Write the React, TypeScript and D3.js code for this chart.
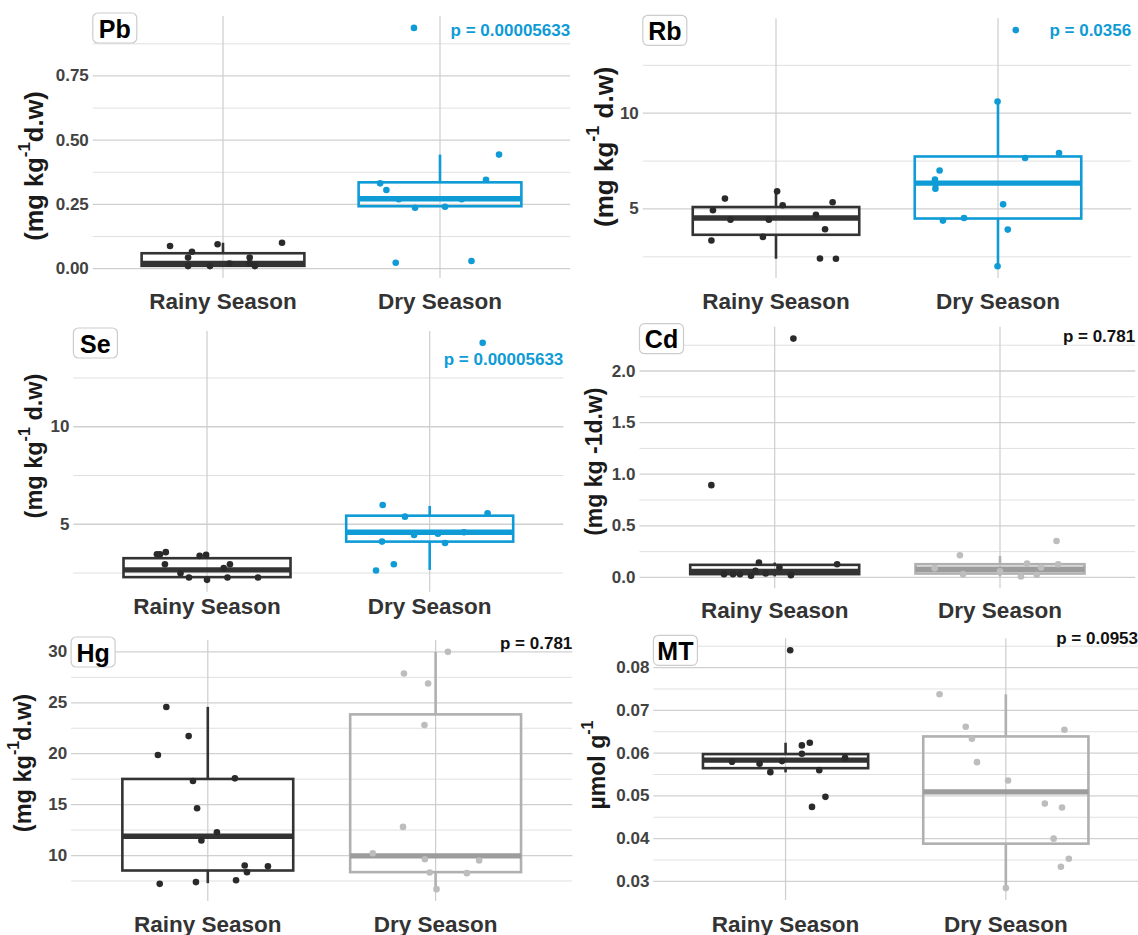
import React from "react";
import * as d3 from "d3";

// ---------- DATA ----------
const seasons = ["Rainy Season", "Dry Season"];
const elements = ["Pb", "Rb", "Se", "Cd", "Hg", "MT"];
const pLabels = ["p = 0.00005633", "p = 0.0356", "p = 0.00005633", "p = 0.781", "p = 0.781", "p = 0.0953"];

// box stats: [lowerWhisker, q1, median, q3, upperWhisker]
const pbRainyBox = [0.01, 0.011, 0.02, 0.06, 0.101];
const pbDryBox = [0.241, 0.243, 0.272, 0.336, 0.444];
const rbRainyBox = [2.4, 3.65, 4.53, 5.1, 5.92];
const rbDryBox = [2.01, 4.5, 6.35, 7.74, 10.6];
const seRainyBox = [2.15, 2.29, 2.66, 3.26, 3.52];
const seDryBox = [2.66, 4.11, 4.59, 5.44, 5.94];
const cdRainyBox = [0.01, 0.032, 0.058, 0.122, 0.144];
const cdDryBox = [0.01, 0.038, 0.08, 0.128, 0.208];
const hgRainyBox = [7.29, 8.53, 11.9, 17.52, 24.6];
const hgDryBox = [6.7, 8.37, 9.97, 23.86, 30.0];
const mtRainyBox = [0.0555, 0.05648, 0.05836, 0.05977, 0.06242];
const mtDryBox = [0.02844, 0.03883, 0.05094, 0.0639, 0.07375];

// jittered points: [jitter offset (category units), value]
const pbRainyPts = [[-0.244, 0.088], [-0.143, 0.066], [-0.161, 0.043], [-0.161, 0.01], [-0.06, 0.01], [-0.025, 0.095], [0.123, 0.043], [0.147, 0.01], [0.272, 0.101], [0.123, 0.022], [0.03, 0.02]];
const pbDryPts = [[-0.276, 0.332], [-0.247, 0.306], [-0.204, 0.023], [-0.115, 0.237], [-0.12, 0.937], [0.023, 0.241], [0.145, 0.03], [0.212, 0.346], [0.272, 0.444], [-0.19, 0.27], [0.1, 0.27]];
const rbRainyPts = [[-0.291, 3.35], [-0.284, 4.93], [-0.23, 5.54], [-0.205, 4.44], [-0.059, 3.54], [-0.032, 4.44], [0.005, 5.92], [0.03, 5.19], [0.18, 4.7], [0.198, 2.41], [0.221, 3.94], [0.255, 5.35], [0.27, 2.4]];
const rbDryPts = [[-0.284, 6.53], [-0.282, 6.06], [-0.28, 6.3], [-0.263, 7.01], [-0.248, 4.39], [-0.153, 4.53], [-0.002, 10.61], [0.023, 5.24], [0.044, 3.92], [-0.002, 2.01], [0.08, 14.34], [0.122, 7.66], [0.275, 7.92]];
const seRainyPts = [[-0.225, 3.46], [-0.211, 3.46], [-0.185, 3.57], [-0.189, 2.95], [-0.119, 2.49], [-0.081, 2.27], [-0.033, 3.38], [-0.004, 3.43], [0, 2.15], [0.075, 2.75], [0.092, 2.27], [0.103, 2.95], [0.229, 2.27]];
const seDryPts = [[-0.241, 2.63], [-0.211, 5.99], [-0.214, 4.11], [-0.161, 2.95], [-0.111, 5.39], [-0.07, 4.45], [0.037, 4.51], [0.069, 4.04], [0.154, 4.59], [0.238, 14.3], [0.26, 5.56]];
const cdRainyPts = [[-0.281, 0.894], [-0.225, 0.032], [-0.185, 0.032], [-0.154, 0.032], [-0.105, 0.016], [-0.085, 0.064], [-0.07, 0.144], [-0.04, 0.038], [0.021, 0.096], [0.072, 0.022], [0.083, 2.314], [0.277, 0.128]];
const cdDryPts = [[-0.178, 0.215], [-0.164, 0.032], [-0.29, 0.09], [0.093, 0.01], [0.12, 0.135], [0.163, 0.026], [0.182, 0.096], [0.251, 0.353], [0.258, 0.128], [0, 0.06]];
const hgRainyPts = [[-0.211, 7.22], [-0.182, 24.58], [-0.219, 19.87], [-0.084, 21.73], [-0.065, 17.32], [-0.052, 7.39], [-0.047, 14.64], [-0.028, 11.47], [0.04, 12.29], [0.119, 17.58], [0.124, 7.58], [0.162, 9.02], [0.172, 8.37], [0.264, 8.95]];
const hgDryPts = [[-0.276, 10.23], [-0.143, 12.81], [-0.139, 27.88], [-0.049, 22.81], [-0.047, 9.64], [-0.033, 26.9], [-0.026, 8.33], [0.004, 6.7], [0.054, 30.0], [0.137, 8.27], [0.191, 9.51]];
const mtRainyPts = [[-0.243, 0.05797], [-0.118, 0.0575], [-0.069, 0.05555], [-0.016, 0.05813], [0.021, 0.08406], [0.074, 0.0618], [0.074, 0.05984], [0.11, 0.06242], [0.12, 0.04742], [0.153, 0.05602], [0.181, 0.04977], [0.27, 0.0589]];
const mtDryPts = [[-0.301, 0.07375], [-0.182, 0.06617], [-0.154, 0.06336], [-0.131, 0.05789], [0.01, 0.05359], [0, 0.02844], [0.177, 0.0482], [0.255, 0.04727], [0.217, 0.04], [0.286, 0.03531], [0.25, 0.03344], [0.266, 0.06547]];

const pbTicks = [0, 0.25, 0.5, 0.75];
const rbTicks = [5, 10];
const seTicks = [5, 10];
const cdTicks = [0, 0.5, 1.0, 1.5, 2.0];
const hgTicks = [10, 15, 20, 25, 30];
const mtTicks = [0.03, 0.04, 0.05, 0.06, 0.07, 0.08];
const tickFormats = [".2f", "d", "d", ".1f", "d", ".2f"];

// y-axis titles: [text, isSuperscript]
const yTitles = [
  [["(mg kg", false], ["-1", true], ["d.w)", false]],
  [["(mg kg", false], ["-1", true], [" d.w)", false]],
  [["(mg kg", false], ["-1", true], [" d.w)", false]],
  [["(mg kg -1d.w)", false]],
  [["(mg kg", false], ["-1", true], ["d.w)", false]],
  [["µmol g", false], ["-1", true]],
];

const boxes = [[pbRainyBox, pbDryBox], [rbRainyBox, rbDryBox], [seRainyBox, seDryBox], [cdRainyBox, cdDryBox], [hgRainyBox, hgDryBox], [mtRainyBox, mtDryBox]];
const points = [[pbRainyPts, pbDryPts], [rbRainyPts, rbDryPts], [seRainyPts, seDryPts], [cdRainyPts, cdDryPts], [hgRainyPts, hgDryPts], [mtRainyPts, mtDryPts]];
const ticks = [pbTicks, rbTicks, seTicks, cdTicks, hgTicks, mtTicks];

// ---------- LAYOUT / STYLE ----------
const layout = [
  { left: 92.8, right: 570.2, top: 16, bottom: 278, titleX: 34, titleY: 166, titleSize: 25.5, xLabY: 301.7, pY: 30.7 },
  { left: 642.8, right: 1131.2, top: 18.3, bottom: 278, titleX: 604, titleY: 146.7, titleSize: 26, xLabY: 301.7, pY: 30.7 },
  { left: 73.4, right: 563.3, top: 331, bottom: 591.7, titleX: 34, titleY: 446, titleSize: 23.5, xLabY: 606.7, pY: 359 },
  { left: 639.5, right: 1135.2, top: 326.7, bottom: 588.3, titleX: 594, titleY: 461.7, titleSize: 23, xLabY: 610, pY: 336.7 },
  { left: 71.1, right: 572.3, top: 640, bottom: 901, titleX: 23, titleY: 763, titleSize: 23.5, xLabY: 924, pY: 643.3 },
  { left: 653.4, right: 1138, top: 638.3, bottom: 900, titleX: 597, titleY: 765, titleSize: 23, xLabY: 924, pY: 638.3 },
];
const dryScheme = ["blue", "blue", "blue", "gray", "gray", "gray"];
const BLUE = "#0E9BD6";
const schemes: any = {
  dark: { box: "#333333", med: "#333333", pt: "#2a2a2a", p: "#111" },
  blue: { box: BLUE, med: BLUE, pt: BLUE, p: BLUE },
  gray: { box: "#b0b0b0", med: "#9c9c9c", pt: "#bdbdbd", p: "#111" },
};
const FONT = "'Liberation Sans', Arial, Helvetica, sans-serif";

function Panel({ i }: { i: number }) {
  const L = layout[i];
  const allVals: number[] = [];
  points[i].forEach((s: any) => s.forEach((p: any) => allVals.push(p[1])));
  boxes[i].forEach((b: any) => b.forEach((v: number) => allVals.push(v)));
  const [mn, mx] = d3.extent(allVals) as [number, number];
  const R = mx - mn;
  const y = d3.scaleLinear().domain([mn - 0.05 * R, mx + 0.05 * R]).range([L.bottom, L.top]);
  const x = d3.scalePoint<string>().domain(seasons).range([L.left, L.right]).padding(0.6);
  const step = x.step();
  const bw = step * 0.75;
  const tk = ticks[i];
  const tstep = tk[1] - tk[0];
  const [d0, d1] = y.domain();
  const minor: number[] = [];
  for (let k = -1; k < tk.length; k++) {
    const v = tk[0] + (k + 0.5) * tstep;
    if (v > d0 && v < d1) minor.push(v);
  }
  const fmt = d3.format(tickFormats[i]);
  const supSize = Math.round(L.titleSize * 0.68);
  return (
    <g>
      {minor.map((v, k) => (
        <line key={"mi" + k} x1={L.left} x2={L.right} y1={y(v)} y2={y(v)} stroke="#e0e0e0" strokeWidth={1} />
      ))}
      {tk.map((v, k) => (
        <line key={"ma" + k} x1={L.left} x2={L.right} y1={y(v)} y2={y(v)} stroke="#d0d0d0" strokeWidth={1.3} />
      ))}
      {seasons.map((s) => (
        <line key={"v" + s} x1={x(s)} x2={x(s)} y1={L.top} y2={L.bottom} stroke="#cdcdcd" strokeWidth={1.2} />
      ))}
      {tk.map((v, k) => (
        <text key={"t" + k} x={L.left - 4} y={y(v)} textAnchor="end" dominantBaseline="central"
          fontFamily={FONT} fontWeight="bold" fontSize={17} fill="#424242">{fmt(v)}</text>
      ))}
      {seasons.map((s, si) => {
        const sc = schemes[si === 0 ? "dark" : dryScheme[i]];
        const [lo, q1, med, q3, hi] = boxes[i][si];
        const cx = x(s) as number;
        return (
          <g key={"b" + s}>
            <line x1={cx} x2={cx} y1={y(q3)} y2={y(hi)} stroke={sc.box} strokeWidth={2.6} />
            <line x1={cx} x2={cx} y1={y(q1)} y2={y(lo)} stroke={sc.box} strokeWidth={2.6} />
            <rect x={cx - bw / 2} y={y(q3)} width={bw} height={y(q1) - y(q3)} fill="none" stroke={sc.box} strokeWidth={2.6} />
            <line x1={cx - bw / 2} x2={cx + bw / 2} y1={y(med)} y2={y(med)} stroke={sc.med} strokeWidth={5.4} />
          </g>
        );
      })}
      {seasons.map((s, si) => {
        const sc = schemes[si === 0 ? "dark" : dryScheme[i]];
        const cx = x(s) as number;
        return points[i][si].map((p: any, k: number) => (
          <circle key={"p" + si + "_" + k} cx={cx + p[0] * step} cy={y(p[1])} r={3.3} fill={sc.pt} />
        ));
      })}
      {seasons.map((s) => (
        <text key={"xl" + s} x={x(s)} y={L.xLabY} textAnchor="middle" dominantBaseline="central"
          fontFamily={FONT} fontWeight="bold" fontSize={22.5} fill="#333">{s}</text>
      ))}
      <text x={L.right} y={L.pY} textAnchor="end" dominantBaseline="central" fontFamily={FONT}
        fontWeight="bold" fontSize={17} fill={schemes[dryScheme[i]].p}>{pLabels[i]}</text>
      <text transform={`translate(${L.titleX},${L.titleY}) rotate(-90)`} textAnchor="middle"
        dominantBaseline="central" fontFamily={FONT} fontWeight="bold" fontSize={L.titleSize} fill="#1a1a1a">
        {yTitles[i].map((seg: any, k: number) => {
          if (seg[1]) {
            return (
              <tspan key={k} fontSize={supSize} dy="-0.6em">{seg[0]}</tspan>
            );
          }
          const prevSup = k > 0 && yTitles[i][k - 1][1];
          return (
            <tspan key={k} dy={prevSup ? "0.4em" : undefined}>{seg[0]}</tspan>
          );
        })}
      </text>
      <rect x={L.left} y={L.top - 3} width={44} height={30} rx={5} fill="#fff" stroke="#cccccc" strokeWidth={1.2} />
      <text x={L.left + 22} y={L.top + 12.5} textAnchor="middle" dominantBaseline="central"
        fontFamily={FONT} fontWeight="bold" fontSize={25} fill="#000">{elements[i]}</text>
    </g>
  );
}

export default function App() {
  return (
    <svg width={1138} height={935} style={{ position: "absolute", left: 0, top: 0, background: "#fff" }}>
      <rect width={1138} height={935} fill="#fff" />
      {elements.map((e, i) => (
        <Panel key={e} i={i} />
      ))}
    </svg>
  );
}
